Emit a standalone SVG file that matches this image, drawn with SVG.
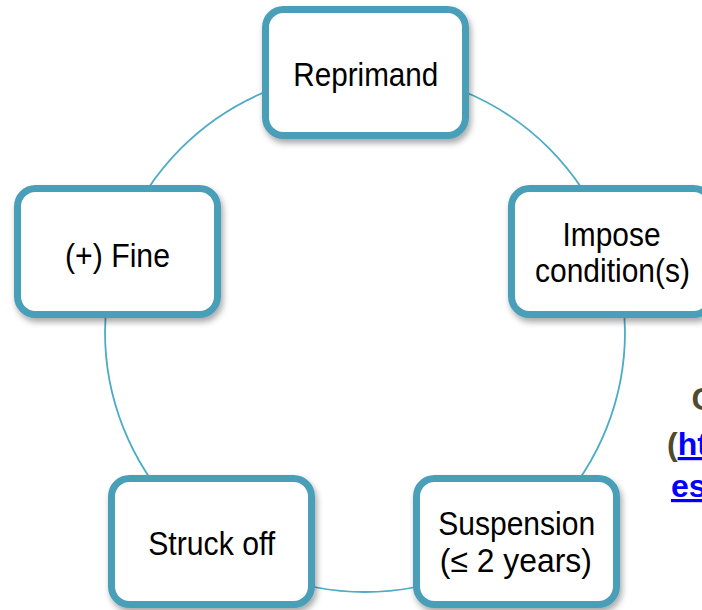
<svg xmlns="http://www.w3.org/2000/svg" width="702" height="610" viewBox="0 0 702 610">
  <defs>
    <filter id="shadow" x="-20%" y="-20%" width="140%" height="150%">
      <feDropShadow dx="2" dy="4" stdDeviation="3" flood-color="#000" flood-opacity="0.35"/>
    </filter>
    <style>
      .node rect { fill: #ffffff; stroke: #4A9FB8; stroke-width: 7; filter: url(#shadow); }
      .label { font-family: "Liberation Sans", Arial, sans-serif; font-size: 33px; fill: #000000; text-anchor: middle; }
      .ring { fill: none; stroke: #4BACC6; stroke-width: 1.8; }
      .side { font-family: "Liberation Sans", Arial, sans-serif; font-size: 32px; font-weight: bold; }
      .olive { fill: #4F4A30; }
      .link { fill: #0000FF; text-decoration: underline; }
    </style>
  </defs>
  <rect width="702" height="610" fill="#ffffff"/>

  <g id="connectors">
    <circle class="ring" cx="365" cy="332" r="260"/>
  </g>

  <g id="node-reprimand" class="node">
    <rect x="265.5" y="9.5" width="200" height="126" rx="18"/>
    <text class="label" x="365.8" y="86" textLength="145" lengthAdjust="spacingAndGlyphs">Reprimand</text>
  </g>

  <g id="node-impose" class="node">
    <rect x="511.5" y="188.5" width="200" height="126" rx="18"/>
    <text class="label" x="611.5" y="246" textLength="98" lengthAdjust="spacingAndGlyphs">Impose</text>
    <text class="label" x="612.5" y="282" textLength="155" lengthAdjust="spacingAndGlyphs">condition(s)</text>
  </g>

  <g id="node-suspension" class="node">
    <rect x="416.5" y="478.5" width="200" height="126" rx="18"/>
    <text class="label" x="516.7" y="535" textLength="157" lengthAdjust="spacingAndGlyphs">Suspension</text>
    <text class="label" x="515.8" y="572" textLength="152" lengthAdjust="spacingAndGlyphs">(≤ 2 years)</text>
  </g>

  <g id="node-struck-off" class="node">
    <rect x="111.5" y="478.5" width="200" height="126" rx="18"/>
    <text class="label" x="211.7" y="555" textLength="127" lengthAdjust="spacingAndGlyphs">Struck off</text>
  </g>

  <g id="node-fine" class="node">
    <rect x="17.5" y="188.5" width="200" height="126" rx="18"/>
    <text class="label" x="117.5" y="267" textLength="105" lengthAdjust="spacingAndGlyphs">(+) Fine</text>
  </g>

  <g id="side-text">
    <text class="side olive" x="691.5" y="410">C</text>
    <text class="side" x="667" y="455"><tspan class="olive">(</tspan><tspan class="link">ht</tspan></text>
    <text class="side link" x="671" y="497">es</text>
  </g>
</svg>
